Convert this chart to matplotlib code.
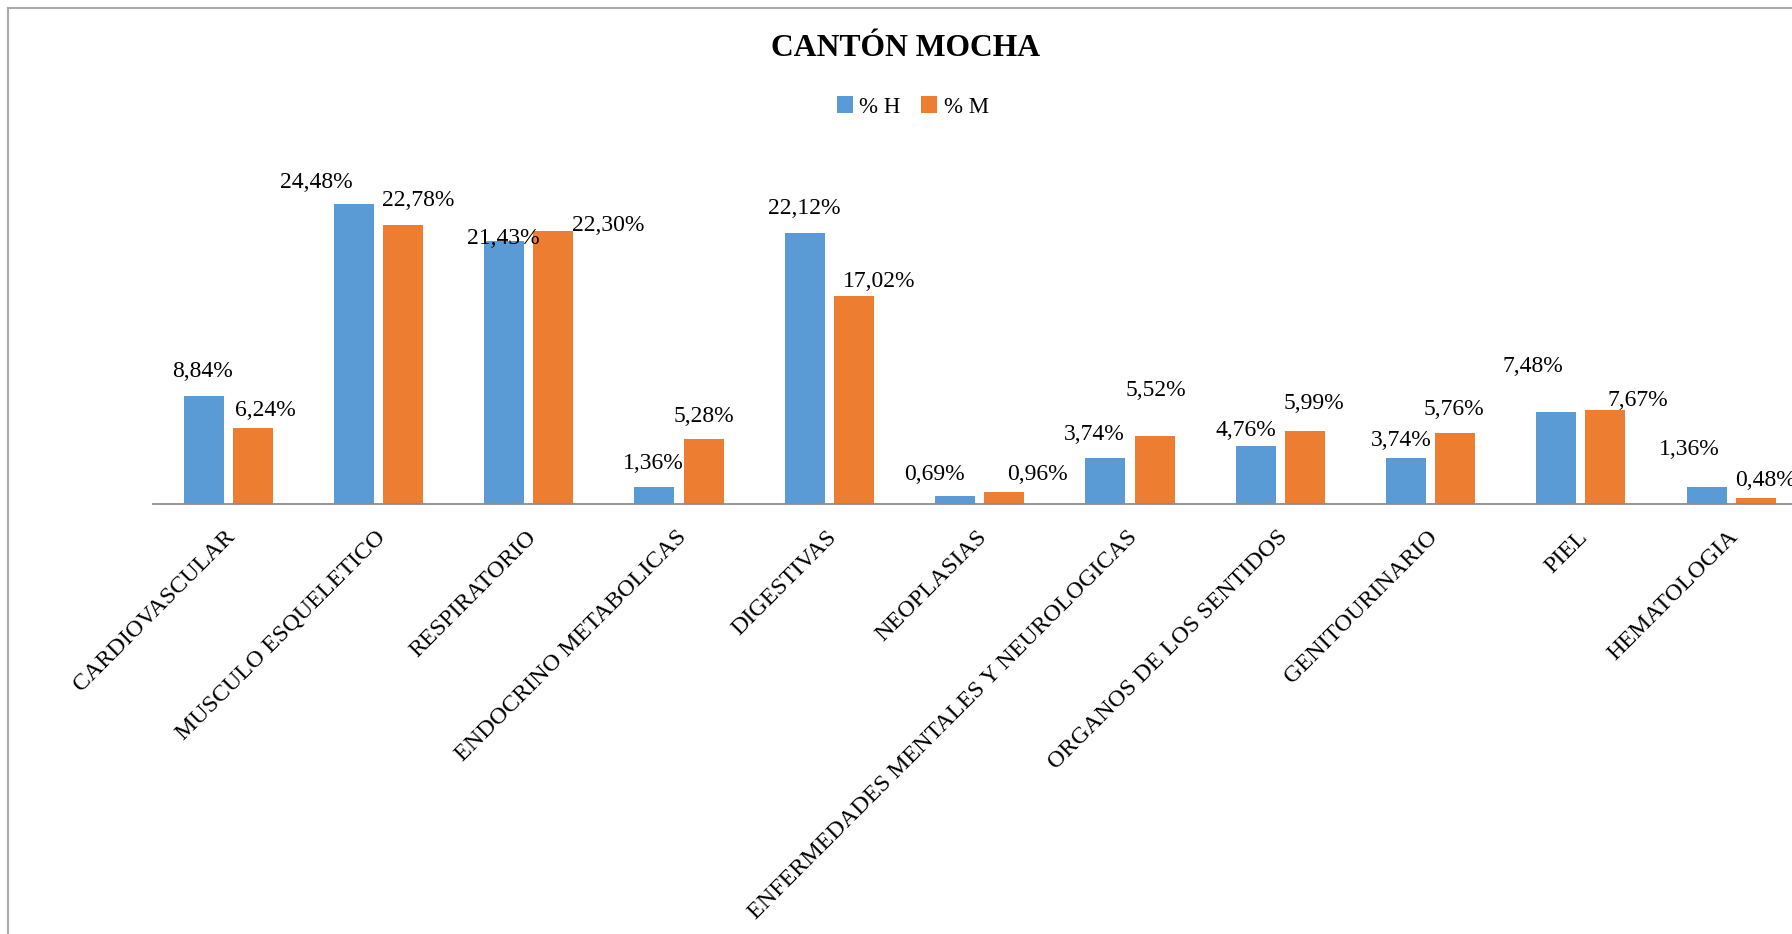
import matplotlib
matplotlib.use("Agg")
import matplotlib.pyplot as plt
from matplotlib.lines import Line2D
import numpy as np

categories = [
    "CARDIOVASCULAR", "MUSCULO ESQUELETICO", "RESPIRATORIO",
    "ENDOCRINO METABOLICAS", "DIGESTIVAS", "NEOPLASIAS",
    "ENFERMEDADES MENTALES Y NEUROLOGICAS", "ORGANOS DE LOS SENTIDOS",
    "GENITOURINARIO", "PIEL", "HEMATOLOGIA",
]
pct_h = [8.84, 24.48, 21.43, 1.36, 22.12, 0.69, 3.74, 4.76, 3.74, 7.48, 1.36]
pct_m = [6.24, 22.78, 22.30, 5.28, 17.02, 0.96, 5.52, 5.99, 5.76, 7.67, 0.48]
series_names = ["% H", "% M"]

# label offsets (pixels, relative to the top centre of each bar)
off_h = [(-1, 24), (-38, 22), (-1, 3), (-1, 24), (-1, 25), (-21, 21),
         (-11, 24), (-10, 15), (-5, 18), (-23, 46), (-17, 38)]
off_m = [(13, 17), (15, 24), (55, 5), (0, 23), (25, 14), (33, 18),
         (1, 46), (9, 27), (-1, 24), (32, 10), (10, 18)]

BLUE = "#5B9BD5"
ORANGE = "#ED7D31"
FONT = "Liberation Serif"

W, H = 1792, 934
fig = plt.figure(figsize=(W / 100, H / 100), dpi=100)
fig.patch.set_facecolor("white")

# outer chart frame (top and left edges)
fig.add_artist(Line2D([8 / W, 1.0], [1 - 8 / H, 1 - 8 / H], color="#A9A9A9", lw=1.5))
fig.add_artist(Line2D([8 / W, 8 / W], [0.0, 1 - 8 / H], color="#A9A9A9", lw=1.5))

ax_left = 153 / W
ax_bottom = (H - 504) / H
px_per_unit = 12.25
ymax = 30
ax = fig.add_axes([ax_left, ax_bottom, 11 * 150.3 / W, ymax * px_per_unit / H])

x = np.arange(len(categories))
bw = 0.266
shift = 0.1635
bars_h = ax.bar(x - shift, pct_h, bw, color=BLUE, label=series_names[0])
bars_m = ax.bar(x + shift, pct_m, bw, color=ORANGE, label=series_names[1])

ax.set_xlim(-0.5, len(categories) - 0.5)
ax.set_ylim(0, ymax)
for s in ["top", "left", "right"]:
    ax.spines[s].set_visible(False)
ax.spines["bottom"].set_color("#8C8C8C")
ax.spines["bottom"].set_linewidth(1.3)
ax.set_yticks([])
ax.set_xticks(x)
ax.set_xticklabels([])
ax.tick_params(axis="x", length=0)

for i, name in enumerate(categories):
    ax.annotate(name, xy=(x[i], 0), xytext=(4, -30), textcoords="offset pixels",
                rotation=45, rotation_mode="anchor", ha="right", va="center",
                fontsize=17.3, family=FONT, color="black", annotation_clip=False)

def fmt(v):
    return f"{v:.2f}".replace(".", ",") + "%"

for bars, vals, offs in [(bars_h, pct_h, off_h), (bars_m, pct_m, off_m)]:
    for b, v, (dx, dy) in zip(bars, vals, offs):
        cx = b.get_x() + b.get_width() / 2
        ax.annotate(fmt(v), xy=(cx, v), xytext=(dx, dy), textcoords="offset pixels",
                    ha="center", va="center", fontsize=17, family=FONT,
                    color="black", annotation_clip=False)

fig.text(906 / W, 1 - 48 / H, "CANTÓN MOCHA", ha="center", va="center",
         fontsize=22.8, fontweight="bold", family=FONT)

leg = fig.legend(handles=[bars_h, bars_m], labels=series_names, loc="center",
                 bbox_to_anchor=(913 / W, 1 - 107 / H), ncol=2, frameon=False,
                 prop={"family": FONT, "size": 16.5}, handlelength=0.7,
                 handleheight=0.7, handletextpad=0.3, columnspacing=0.9)

fig.savefig("out.png", dpi=100, facecolor="white")
